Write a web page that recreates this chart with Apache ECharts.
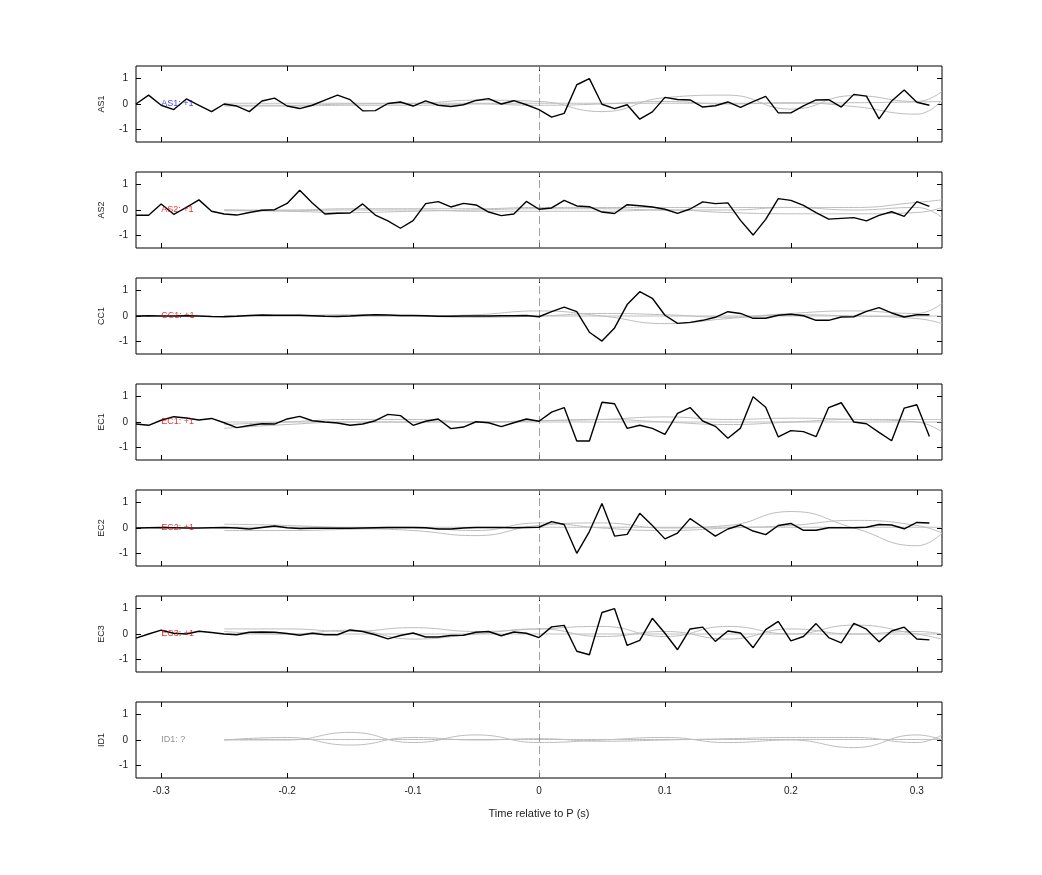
<!DOCTYPE html>
<html><head><meta charset="utf-8">
<script src="https://cdn.jsdelivr.net/npm/echarts@6/dist/echarts.min.js"></script>
<style>html,body{margin:0;background:#fff}#c{width:1042px;height:875px}</style>
</head><body><div id="c"></div>
<script>
const stations = ['AS1','AS2','CC1','EC1','EC2','EC3','ID1'];
const labels = ['AS1: +1','AS2: +1','CC1: +1','EC1: +1','EC2: +1','EC3: +1','ID1: ?'];
const labelColors = ['#1010e0','#e00000','#e00000','#e00000','#e00000','#e00000','#777777'];
const xTicks = [-0.3,-0.2,-0.1,0,0.1,0.2,0.3];
const times = Array.from({length:64},(_, i)=>+(-0.32+i*0.01).toFixed(2));
const grayT = [-0.25,-0.2,-0.15,-0.1,-0.05,0,0.05,0.1,0.15,0.2,0.25,0.3,0.32];

const AS1 = [0,0.35,-0.05,-0.22,0.2,-0.05,-0.3,0,-0.08,-0.3,0.12,0.23,-0.08,-0.18,-0.05,0.15,0.35,0.17,-0.27,-0.26,0.02,0.08,-0.08,0.12,-0.05,-0.1,-0.03,0.14,0.21,0,0.13,-0.03,-0.22,-0.52,-0.37,0.76,1.0,-0.01,-0.18,-0.03,-0.6,-0.31,0.26,0.18,0.16,-0.12,-0.07,0.08,-0.13,0.09,0.3,-0.35,-0.35,-0.07,0.16,0.17,-0.12,0.38,0.31,-0.59,0.12,0.55,0.07,-0.05];
const AS2 = [-0.21,-0.21,0.24,-0.17,0.1,0.4,-0.05,-0.16,-0.2,-0.1,-0.01,0.01,0.26,0.78,0.28,-0.16,-0.13,-0.12,0.24,-0.2,-0.43,-0.72,-0.42,0.25,0.33,0.12,0.26,0.2,-0.08,-0.22,-0.16,0.34,0.03,0.08,0.38,0.16,0.13,-0.08,-0.14,0.21,0.17,0.12,0.03,-0.13,0.04,0.32,0.25,0.28,-0.41,-0.99,-0.37,0.45,0.38,0.18,-0.1,-0.36,-0.33,-0.3,-0.43,-0.21,-0.07,-0.25,0.33,0.14];
const CC1 = [0,0.01,0,0,0.01,0,-0.02,-0.03,-0.01,0.02,0.04,0.03,0.03,0.03,0.01,-0.01,-0.02,0,0.03,0.05,0.04,0.02,0.02,0.01,-0.01,-0.01,0,0,0,0.01,0.01,0.02,-0.03,0.17,0.35,0.17,-0.64,-0.99,-0.47,0.45,0.96,0.7,0.03,-0.29,-0.25,-0.17,-0.05,0.17,0.1,-0.09,-0.09,0.03,0.07,0.01,-0.17,-0.17,-0.04,-0.03,0.18,0.33,0.12,-0.04,0.05,0.05];
const EC1 = [-0.08,-0.13,0.07,0.21,0.16,0.08,0.14,-0.03,-0.22,-0.14,-0.07,-0.08,0.12,0.22,0.05,0,-0.04,-0.13,-0.08,0.05,0.3,0.25,-0.13,0.03,0.12,-0.26,-0.2,0.01,-0.03,-0.18,-0.03,0.12,0.03,0.39,0.57,-0.75,-0.75,0.78,0.72,-0.25,-0.13,-0.25,-0.49,0.34,0.57,0.04,-0.17,-0.64,-0.24,1.0,0.58,-0.59,-0.34,-0.38,-0.58,0.57,0.76,0,-0.07,-0.41,-0.74,0.55,0.68,-0.57];
const EC2 = [0,0.01,0.02,0.01,0,0,0.01,0.02,0,-0.04,0.02,0.08,0.01,-0.02,-0.01,-0.01,-0.01,-0.01,0,0.01,0.02,0.02,0.02,0.01,-0.04,-0.04,0,0.02,0.02,0.02,0.01,0.02,0.03,0.25,0.14,-1.0,-0.14,0.97,-0.32,-0.25,0.58,0.1,-0.43,-0.2,0.37,0.03,-0.32,-0.04,0.12,-0.12,-0.26,0.1,0.18,-0.09,-0.09,0.01,0.01,0.01,0.03,0.14,0.12,-0.03,0.22,0.2];
const EC3 = [-0.16,0,0.15,0.03,0,0.11,0.06,0,-0.03,0.07,0.08,0.07,0.02,-0.05,0.03,-0.03,-0.03,0.16,0.1,-0.03,-0.19,-0.06,0.04,-0.12,-0.12,-0.06,-0.05,0.07,0.1,-0.07,0.08,0.03,-0.14,0.28,0.34,-0.68,-0.82,0.85,1.0,-0.45,-0.25,0.62,0.03,-0.62,0.2,0.27,-0.29,0.12,0.04,-0.54,0.17,0.5,-0.27,-0.1,0.41,-0.14,-0.35,0.42,0.19,-0.31,0.12,0.27,-0.2,-0.23];
const blackData = [AS1,AS2,CC1,EC1,EC2,EC3,null];

const grays = [
 [[0.03,0.03,0.03,0.03,0.03,0.03,0.03,0.03,0.03,0.03,0.05,0.08,0.1],
  [-0.05,-0.05,0,0.02,0.15,0.1,-0.3,0.25,0.35,-0.2,0.33,0.1,0.5],
  [-0.08,-0.08,-0.05,-0.05,0,-0.05,0,0.1,0,0.05,-0.1,-0.4,0.15]],
 [[0,0,0.05,0.05,0.05,0.1,0.1,0.1,0.1,0.1,0.1,0.3,0.4],
  [0,-0.05,-0.1,-0.05,0,0.05,0.05,0,0,0.1,0,0.1,-0.3],
  [-0.03,-0.03,0,0,-0.05,-0.05,-0.05,0,-0.1,-0.15,-0.15,-0.1,0.1]],
 [[0,0,0,0,0.05,0.2,0,-0.3,-0.1,0.1,0.2,0.1,0.5],
  [0.02,0.02,0.05,0,-0.05,0,0.1,0.05,-0.05,0.05,0,-0.1,-0.3],
  [0,0,0,0,0,0,0,0,0,0,0,0,0]],
 [[-0.25,-0.1,0,0,0,0.05,0.1,0.2,0.1,0.15,0.1,0,-0.4],
  [-0.1,0,0.1,0.1,0,0.05,0.1,0,-0.1,0,0.1,0.1,0.1],
  [0,0,0,0,0,0,0,0,0,0,0,0,0]],
 [[0.15,0.1,0,-0.1,-0.3,0.1,0.2,0,0.1,0.65,0,-0.7,-0.2],
  [-0.1,-0.1,-0.05,0,-0.1,0.2,0,-0.1,0,0.1,0.3,0.1,-0.2],
  [0.03,0.03,0.03,0.03,0.03,0.03,0.03,0.03,0.03,0.03,0.03,0.03,0.03]],
 [[0.2,0.2,0.1,0.25,0.1,0.2,0.3,-0.1,0.3,0,0.35,0,-0.2],
  [0.1,0,0.15,-0.2,0,0.2,-0.1,0.1,-0.2,0.2,0,0.1,0],
  [0,0,0,0,0,0,0,0,0,0,0,0,0]],
 [[0,0,0.3,-0.1,0.2,-0.1,0,0.1,-0.1,0,-0.3,0.2,0],
  [0,0.1,-0.2,0.1,0,0.05,-0.05,0,0.05,0.1,0.1,-0.1,0.2],
  [0.02,0.02,0.02,0.02,0.02,0.02,0.02,0.02,0.02,0.02,0.02,0.02,0.02]]
];

const FONT = 'Liberation Sans';
const grid=[], xAxis=[], yAxis=[], series=[];
const tickX = {inside:true, length:5, lineStyle:{color:'#000'}, customValues:xTicks};
const tickY = {inside:true, length:5, lineStyle:{color:'#000'}, customValues:[-1,0,1]};
stations.forEach((st,k)=>{
  const top = 66 + k*106;
  grid.push({left:136, width:806, top:top, height:76, show:true, borderColor:'#000', borderWidth:1, backgroundColor:'#fff'});
  const last = k===stations.length-1;
  const xa = {type:'value', gridIndex:k, position:'bottom', min:-0.32, max:0.32, interval:0.1,
    axisLine:{show:false, onZero:false}, splitLine:{show:false}, axisTick:tickX,
    axisLabel:{show:last, color:'#222', fontSize:10, fontFamily:FONT, customValues:xTicks, formatter:v=>String(+v.toFixed(1))}};
  if(last){ xa.name='Time relative to P (s)'; xa.nameLocation='middle'; xa.nameGap=30; xa.nameTextStyle={color:'#222',fontSize:11,fontFamily:FONT}; }
  xAxis.push(xa);
  xAxis.push({type:'value', gridIndex:k, position:'top', min:-0.32, max:0.32, axisLine:{show:false, onZero:false}, splitLine:{show:false},
    axisTick:tickX, axisLabel:{show:false}});
  yAxis.push({type:'value', gridIndex:k, position:'left', min:-1.5, max:1.5, interval:1,
    axisLine:{show:false, onZero:false}, splitLine:{show:false}, axisTick:tickY,
    axisLabel:{color:'#222',fontSize:10,fontFamily:FONT,customValues:[-1,0,1]},
    name:st, nameLocation:'middle', nameGap:30, nameRotate:90, nameTextStyle:{color:'#222',fontSize:9,fontFamily:FONT}});
  yAxis.push({type:'value', gridIndex:k, position:'right', min:-1.5, max:1.5, axisLine:{show:false, onZero:false}, splitLine:{show:false},
    axisTick:tickY, axisLabel:{show:false}});
  const xi = 2*k, yi = 2*k;
  grays[k].forEach((g,gi)=>{
    const s = {type:'line', xAxisIndex:xi, yAxisIndex:yi, smooth:0.5, symbol:'none', silent:true,
      lineStyle:{color:'#bdbdbd', width:1}, data:grayT.map((t,i)=>[t,g[i]])};
    if(gi===0) s.markLine={silent:true, symbol:'none', label:{show:false}, lineStyle:{color:'#888',type:[8,4],width:0.8}, data:[{xAxis:0}]};
    series.push(s);
  });
  if(blackData[k]) series.push({type:'line', xAxisIndex:xi, yAxisIndex:yi, symbol:'none', silent:true,
    lineStyle:{color:'#000', width:1.4}, data:times.map((t,i)=>[t,blackData[k][i]]), z:5});
  series.push({type:'scatter', xAxisIndex:xi, yAxisIndex:yi, symbolSize:0, silent:true, z:6,
    data:[[-0.3,0]], label:{show:true, position:'right', distance:0, formatter:labels[k], color:labelColors[k], fontSize:9, fontFamily:FONT}});
});
const chart = echarts.init(document.getElementById('c'));
chart.setOption({animation:false, backgroundColor:'#fff', grid, xAxis, yAxis, series});
</script></body></html>
